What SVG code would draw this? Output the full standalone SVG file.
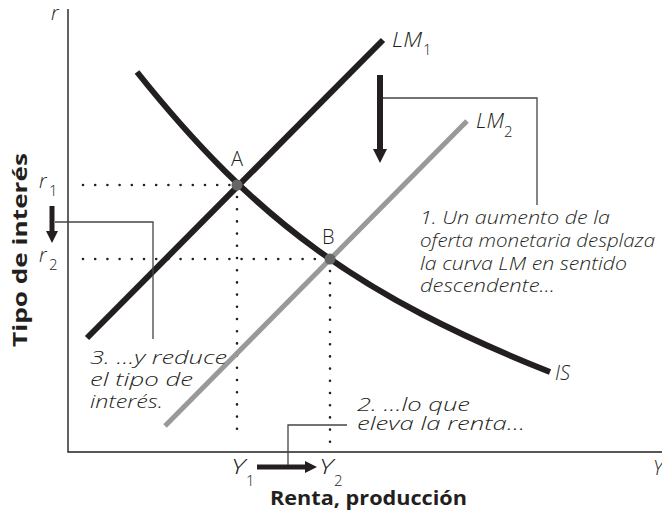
<svg xmlns="http://www.w3.org/2000/svg" width="662" height="523" viewBox="0 0 662 523">
<style>
.ax{stroke:#231f20;stroke-width:1.4;fill:none}
.crv{stroke:#231f20;stroke-width:6;fill:none}
.crv2{stroke:#999;stroke-width:5;fill:none}
.dot{stroke:#231f20;stroke-width:2.6;stroke-linecap:round;stroke-dasharray:0 12.2;fill:none}
.con{stroke:#444;stroke-width:1.3;fill:none}
.arr{stroke:#231f20;fill:none}
.pt{fill:#666}
text{font-family:"Open Sans","Liberation Sans",sans-serif;fill:#231f20}
.it{font-style:italic;font-size:19px;font-weight:300}
.it2{font-style:italic;font-size:18px;font-weight:300}
.lab{font-style:italic;font-size:20px;font-weight:300}
.sub{font-size:15px;font-weight:300}
.reg{font-size:20px;font-weight:300}
.bold{font-weight:bold;font-size:20px}
</style>
<defs>
<marker id="ah" markerUnits="userSpaceOnUse" viewBox="0 0 14 14" markerWidth="14" markerHeight="14" refX="2" refY="7" orient="auto"><path d="M0,0L14,7L0,14z" fill="#231f20"/></marker>
<marker id="ahs" markerUnits="userSpaceOnUse" viewBox="0 0 12 12" markerWidth="12" markerHeight="12" refX="2" refY="6" orient="auto"><path d="M0,0L12,6L0,12z" fill="#231f20"/></marker>
</defs>
<g id="axes">
<path class="ax" d="M68,9V452H662"/>
<text class="lab" x="51" y="20">r</text>
<text class="lab" x="653" y="475">Y</text>
<text class="bold" x="270" y="505" textLength="197" lengthAdjust="spacingAndGlyphs">Renta, producción</text>
<text class="bold" transform="translate(27,250) rotate(-90)" x="-97" y="0" textLength="194" lengthAdjust="spacingAndGlyphs">Tipo de interés</text>
</g>
<g id="guides">
<path class="dot" d="M83,185H237M83,259H330M237,197V440M330,271V449"/>
</g>
<g id="IS">
<path class="crv" d="M137,72C256,221 359,296 550,372"/>
<text class="lab" x="555" y="380">IS</text>
</g>
<g id="LM1">
<path class="crv" d="M87,338L383,40"/>
<text class="lab" x="392" y="47" textLength="30" lengthAdjust="spacingAndGlyphs">LM</text>
<text class="sub" x="423" y="55">1</text>
</g>
<g id="LM2">
<path class="crv2" d="M165,426L467,121"/>
<text class="lab" x="476" y="128" textLength="28" lengthAdjust="spacingAndGlyphs">LM</text>
<text class="sub" x="504" y="137">2</text>
</g>
<g id="pointA">
<circle class="pt" cx="237" cy="185" r="5.5"/>
<text class="reg" x="231" y="166">A</text>
</g>
<g id="pointB">
<circle class="pt" cx="330" cy="259" r="5.5"/>
<text class="reg" x="322" y="244">B</text>
</g>
<g id="r-labels">
<text class="lab" x="39" y="188">r</text>
<text class="sub" x="49" y="196">1</text>
<text class="lab" x="39" y="262">r</text>
<text class="sub" x="49" y="270">2</text>
</g>
<g id="y-labels">
<text class="lab" x="231" y="474" textLength="14" lengthAdjust="spacingAndGlyphs">Y</text>
<text class="sub" x="246" y="486">1</text>
<text class="lab" x="319" y="474" textLength="14" lengthAdjust="spacingAndGlyphs">Y</text>
<text class="sub" x="334" y="486">2</text>
</g>
<g id="note1">
<text class="it" x="420" y="224" textLength="190" lengthAdjust="spacingAndGlyphs">1. Un aumento de la</text>
<text class="it" x="420" y="247" textLength="235" lengthAdjust="spacingAndGlyphs">oferta monetaria desplaza</text>
<text class="it" x="420" y="270" textLength="207" lengthAdjust="spacingAndGlyphs">la curva LM en sentido</text>
<text class="it" x="420" y="292" textLength="135" lengthAdjust="spacingAndGlyphs">descendente…</text>
</g>
<g id="note2">
<text class="it2" x="357" y="411" textLength="113" lengthAdjust="spacingAndGlyphs">2. …lo que</text>
<text class="it2" x="357" y="430" textLength="168" lengthAdjust="spacingAndGlyphs">eleva la renta…</text>
</g>
<g id="note3">
<text class="it" x="90" y="364" textLength="137" lengthAdjust="spacingAndGlyphs">3. …y reduce</text>
<text class="it" x="90" y="386" textLength="103" lengthAdjust="spacingAndGlyphs">el tipo de</text>
<text class="it" x="90" y="408" textLength="73" lengthAdjust="spacingAndGlyphs">interés.</text>
</g>
<g id="connectors">
<path class="arr" stroke-width="6" d="M380,75V151" marker-end="url(#ah)"/>
<path class="arr" stroke-width="5" d="M52,206V233" marker-end="url(#ahs)"/>
<path class="arr" stroke-width="5" d="M257,467H307" marker-end="url(#ahs)"/>
<path class="con" d="M383,98H537V205"/>
<path class="con" d="M55,222H153V339"/>
<path class="con" d="M347,425H288V465"/>
</g>
</svg>
